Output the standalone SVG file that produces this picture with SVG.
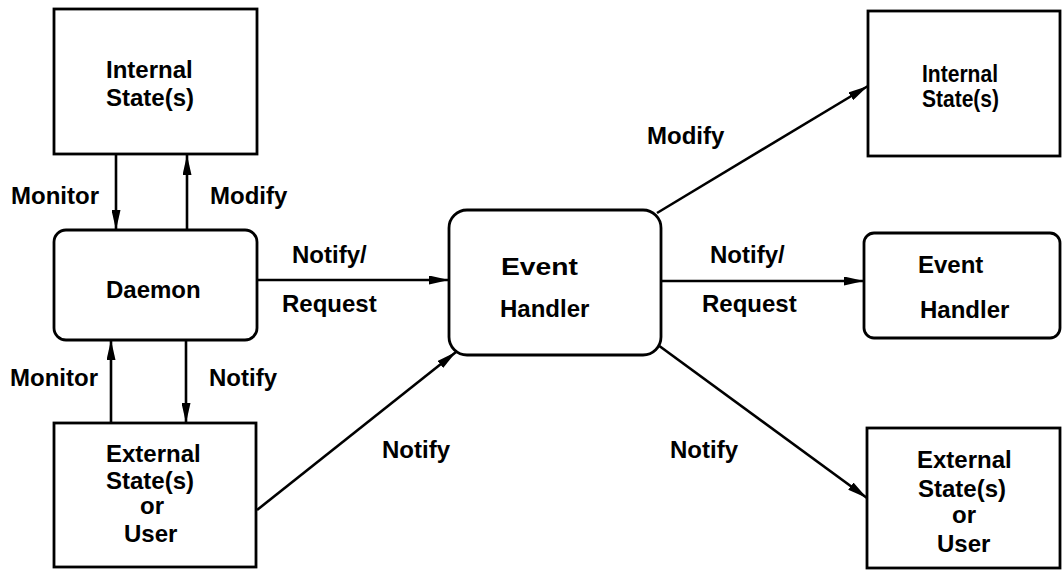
<svg xmlns="http://www.w3.org/2000/svg" width="1062" height="570" viewBox="0 0 1062 570">
  <style>
    .box { fill: #fff; stroke: #000; stroke-width: 2.8; }
    .lbl { font-family: "Liberation Sans", Arial, Helvetica, sans-serif; font-weight: bold; font-size: 24px; fill: #000; }
    .edge { stroke: #000; stroke-width: 2.6; fill: none; marker-end: url(#ah); }
  </style>
  <defs>
    <marker id="ah" viewBox="0 0 20 9" refX="20" refY="4.5" markerWidth="20" markerHeight="9" orient="auto" markerUnits="userSpaceOnUse">
      <path d="M0,0 L20,4.5 L0,9 z" fill="#000"/>
    </marker>
  </defs>
  <rect width="1062" height="570" fill="#fff"/>

  <!-- connectors and their labels -->
  <g id="connectors">
    <line class="edge" x1="116" y1="155" x2="116" y2="230"/>
    <line class="edge" x1="187" y1="230" x2="187" y2="155"/>
    <line class="edge" x1="111" y1="423" x2="111" y2="340"/>
    <line class="edge" x1="186" y1="340" x2="186" y2="423"/>
    <line class="edge" x1="257" y1="280" x2="449" y2="280"/>
    <line class="edge" x1="257" y1="510" x2="456" y2="352"/>
    <line class="edge" x1="657" y1="213" x2="868" y2="86"/>
    <line class="edge" x1="661" y1="281" x2="864" y2="281"/>
    <line class="edge" x1="658" y1="345" x2="867" y2="498"/>
    <text class="lbl" x="11" y="204">Monitor</text>
    <text class="lbl" x="210" y="204">Modify</text>
    <text class="lbl" x="10" y="386">Monitor</text>
    <text class="lbl" x="209" y="386">Notify</text>
    <text class="lbl" x="292" y="263">Notify/</text>
    <text class="lbl" x="282" y="312">Request</text>
    <text class="lbl" x="382" y="458">Notify</text>
    <text class="lbl" x="647" y="144">Modify</text>
    <text class="lbl" x="710" y="263">Notify/</text>
    <text class="lbl" x="702" y="312">Request</text>
    <text class="lbl" x="670" y="458">Notify</text>
  </g>

  <g id="internal-left">
    <rect class="box" x="54" y="9" width="203" height="145"/>
    <text class="lbl" x="106" y="78">Internal</text>
    <text class="lbl" x="106" y="106">State(s)</text>
  </g>

  <g id="daemon">
    <rect class="box" x="54" y="230" width="203" height="110" rx="12" ry="12"/>
    <text class="lbl" x="106" y="298">Daemon</text>
  </g>

  <g id="external-left">
    <rect class="box" x="54" y="423" width="202" height="144"/>
    <text class="lbl" x="106" y="462">External</text>
    <text class="lbl" x="106" y="489">State(s)</text>
    <text class="lbl" x="140" y="514">or</text>
    <text class="lbl" x="124" y="542">User</text>
  </g>

  <g id="event-handler-main">
    <rect class="box" x="449" y="210" width="212" height="145" rx="18" ry="18"/>
    <text class="lbl" x="501" y="275" textLength="77" lengthAdjust="spacingAndGlyphs">Event</text>
    <text class="lbl" x="500" y="317">Handler</text>
  </g>

  <g id="internal-right">
    <rect class="box" x="868" y="11" width="192" height="145"/>
    <text class="lbl" x="922" y="82" textLength="76" lengthAdjust="spacingAndGlyphs">Internal</text>
    <text class="lbl" x="922" y="107" textLength="77" lengthAdjust="spacingAndGlyphs">State(s)</text>
  </g>

  <g id="event-handler-right">
    <rect class="box" x="864" y="233" width="196" height="105" rx="10" ry="10"/>
    <text class="lbl" x="918" y="273">Event</text>
    <text class="lbl" x="920" y="318">Handler</text>
  </g>

  <g id="external-right">
    <rect class="box" x="867" y="428" width="193" height="140"/>
    <text class="lbl" x="917" y="468">External</text>
    <text class="lbl" x="918" y="497">State(s)</text>
    <text class="lbl" x="952" y="523">or</text>
    <text class="lbl" x="937" y="552">User</text>
  </g>
</svg>
